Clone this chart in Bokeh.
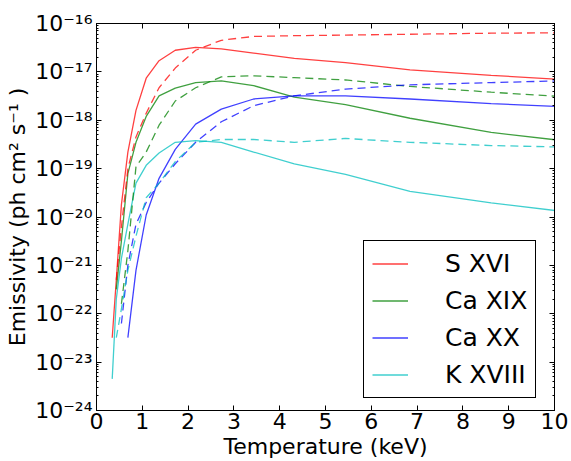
from bokeh.plotting import figure
from bokeh.models import (Range1d, LinearAxis, LogAxis, FixedTicker,
                          CustomJSTickFormatter, Legend, LegendItem)
from bokeh.embed import file_html
from bokeh.resources import INLINE

# ---------------- data ----------------
temp_keV = [0.343, 0.432, 0.544, 0.685, 0.862, 1.085, 1.366, 1.720,
            2.165, 2.725, 3.431, 4.319, 5.437, 6.845, 8.617, 10.85]

# solid lines (start index into temp_keV, values)
s16_solid_start = 0
s16_solid = [3.2e-23, 5.0e-22, 1.8e-20, 2.2e-19, 1.6e-18, 7.4e-18, 1.7e-17, 2.8e-17,
             3.2e-17, 3.0e-17, 2.45e-17, 1.9e-17, 1.55e-17, 1.1e-17, 8.5e-18, 6.3e-18]
ca19_solid_start = 1
ca19_solid = [3.2e-22, 3.2e-21, 7.9e-20, 3.5e-19, 1.2e-18, 3.2e-18, 4.6e-18,
              6.0e-18, 6.5e-18, 5.2e-18, 3.0e-18, 2.1e-18, 1.1e-18, 5.6e-19, 3.2e-19]
ca20_solid_start = 3
ca20_solid = [3.2e-23, 7.9e-22, 1.1e-20, 6.3e-20, 2.5e-19, 8.3e-19, 1.7e-18,
              2.75e-18, 3.2e-18, 3.2e-18, 2.75e-18, 2.2e-18, 1.8e-18]
k18_solid_start = 0
k18_solid = [4.5e-24, 2.0e-22, 1.4e-21, 7.1e-21, 5.0e-20, 1.17e-19, 2.1e-19, 3.5e-19,
             3.8e-19, 3.5e-19, 2.2e-19, 1.26e-19, 7.6e-20, 3.4e-20, 1.95e-20, 1.1e-20]

# dashed lines
s16_dash_start = 1
s16_dash = [5.0e-22, 6.3e-21, 1.0e-19, 4.5e-19, 1.4e-18, 4.7e-18, 1.2e-17,
            2.8e-17, 4.5e-17, 5.4e-17, 5.6e-17, 5.75e-17, 6.0e-17, 6.3e-17, 6.5e-17]
ca19_dash_start = 2
ca19_dash = [1.6e-22, 2.0e-21, 1.1e-19, 2.2e-19, 7.9e-19, 2.5e-18, 4.7e-18,
             7.9e-18, 8.3e-18, 7.6e-18, 6.8e-18, 5.0e-18, 3.8e-18, 2.8e-18]
ca20_dash_start = 2
ca20_dash = [6.3e-23, 1.0e-21, 7.1e-21, 2.0e-20, 5.0e-20, 1.26e-19, 3.5e-19,
             9.3e-19, 2.0e-18, 3.2e-18, 4.4e-18, 5.4e-18, 6.0e-18, 6.8e-18]
k18_dash_start = 1
k18_dash = [3.2e-23, 1.26e-22, 7.9e-22, 4.0e-21, 2.5e-20, 5.0e-20, 1.4e-19,
            3.5e-19, 4.0e-19, 4.0e-19, 3.5e-19, 4.2e-19, 3.5e-19, 3.0e-19, 2.7e-19]

labels = ["S XVI", "Ca XIX", "Ca XX", "K XVIII"]
colors = ["#ff0000", "#008000", "#0000ff", "#00bfbf"]

x_ticks = [0, 1, 2, 3, 4, 5, 6, 7, 8, 9, 10]
y_ticks = [1e-24, 1e-23, 1e-22, 1e-21, 1e-20, 1e-19, 1e-18, 1e-17, 1e-16]
y_tick_labels = ["10⁻²⁴", "10⁻²³", "10⁻²²", "10⁻²¹", "10⁻²⁰",
                 "10⁻¹⁹", "10⁻¹⁸", "10⁻¹⁷", "10⁻¹⁶"]

x_title = "Temperature (keV)"
y_title = "Emissivity (ph cm² s⁻¹ )"

# ---------------- figure ----------------
FONT = "DejaVu Sans"
p = figure(width=571, height=461, y_axis_type="log",
           x_range=Range1d(0, 10), y_range=Range1d(1e-24, 1e-16),
           output_backend="svg", toolbar_location=None,
           min_border_left=96, min_border_right=17,
           min_border_top=23, min_border_bottom=50)
p.grid.visible = False
p.outline_line_color = "black"
p.outline_line_width = 1
p.background_fill_color = "white"
p.border_fill_color = "white"

solid = [(s16_solid_start, s16_solid), (ca19_solid_start, ca19_solid),
         (ca20_solid_start, ca20_solid), (k18_solid_start, k18_solid)]
dashed = [(s16_dash_start, s16_dash), (ca19_dash_start, ca19_dash),
          (ca20_dash_start, ca20_dash), (k18_dash_start, k18_dash)]

items = []
for (st, vals), col, lab in zip(solid, colors, labels):
    r = p.line(temp_keV[st:st + len(vals)], vals, line_color=col,
               line_width=1.3, line_alpha=0.75)
    items.append(LegendItem(label=lab, renderers=[r]))
for (st, vals), col in zip(dashed, colors):
    p.line(temp_keV[st:st + len(vals)], vals, line_color=col,
           line_width=1.3, line_alpha=0.75, line_dash="8 5")

minor_y = [k * t for t in y_ticks[:-1] for k in range(2, 10)]
yfmt = CustomJSTickFormatter(args=dict(tvals=y_ticks, tlabels=y_tick_labels), code="""
let best = 0, bd = Infinity;
for (let i = 0; i < tvals.length; i++) {
  const d = Math.abs(Math.log10(tvals[i]) - Math.log10(tick));
  if (d < bd) { bd = d; best = i; }
}
return tlabels[best];
""")
blank = CustomJSTickFormatter(code="return '';")

def style(ax):
    ax.axis_line_color = "black"
    ax.major_tick_line_color = "black"
    ax.minor_tick_line_color = "black"
    ax.major_tick_in = 5
    ax.major_tick_out = 0
    ax.minor_tick_in = 2
    ax.minor_tick_out = 0
    ax.major_label_text_font = FONT
    ax.major_label_text_font_size = "22px"
    ax.major_label_text_color = "black"
    ax.axis_label_text_font = FONT
    ax.axis_label_text_font_size = "22px"
    ax.axis_label_text_font_style = "normal"
    ax.axis_label_text_color = "black"

xa = p.xaxis[0]
style(xa)
xa.ticker = FixedTicker(ticks=x_ticks)
xa.axis_label = x_title
xa.major_label_standoff = 2
xa.axis_label_standoff = 2

ya = p.yaxis[0]
style(ya)
ya.ticker = FixedTicker(ticks=y_ticks, minor_ticks=minor_y)
ya.formatter = yfmt
ya.axis_label = y_title
ya.major_label_standoff = 4
ya.axis_label_standoff = 2

top = LinearAxis(ticker=FixedTicker(ticks=x_ticks), formatter=blank)
style(top)
top.major_label_standoff = 0
top.major_label_text_font_size = "1px"
p.add_layout(top, "above")

right = LogAxis(ticker=FixedTicker(ticks=y_ticks, minor_ticks=minor_y), formatter=blank)
style(right)
right.major_label_standoff = 0
right.major_label_text_font_size = "1px"
p.add_layout(right, "right")

legend = Legend(items=items, location=(267, 12))
legend.label_text_font = FONT
legend.label_text_font_size = "25px"
legend.label_text_color = "black"
legend.glyph_width = 36
legend.glyph_height = 29
legend.label_height = 29
legend.label_standoff = 37
legend.spacing = 8
legend.padding = 8
legend.margin = 0
legend.border_line_color = "black"
legend.border_line_width = 1
legend.border_line_alpha = 1
legend.background_fill_color = "white"
legend.background_fill_alpha = 1
p.add_layout(legend)

open("out.html", "w").write(file_html(p, INLINE))
